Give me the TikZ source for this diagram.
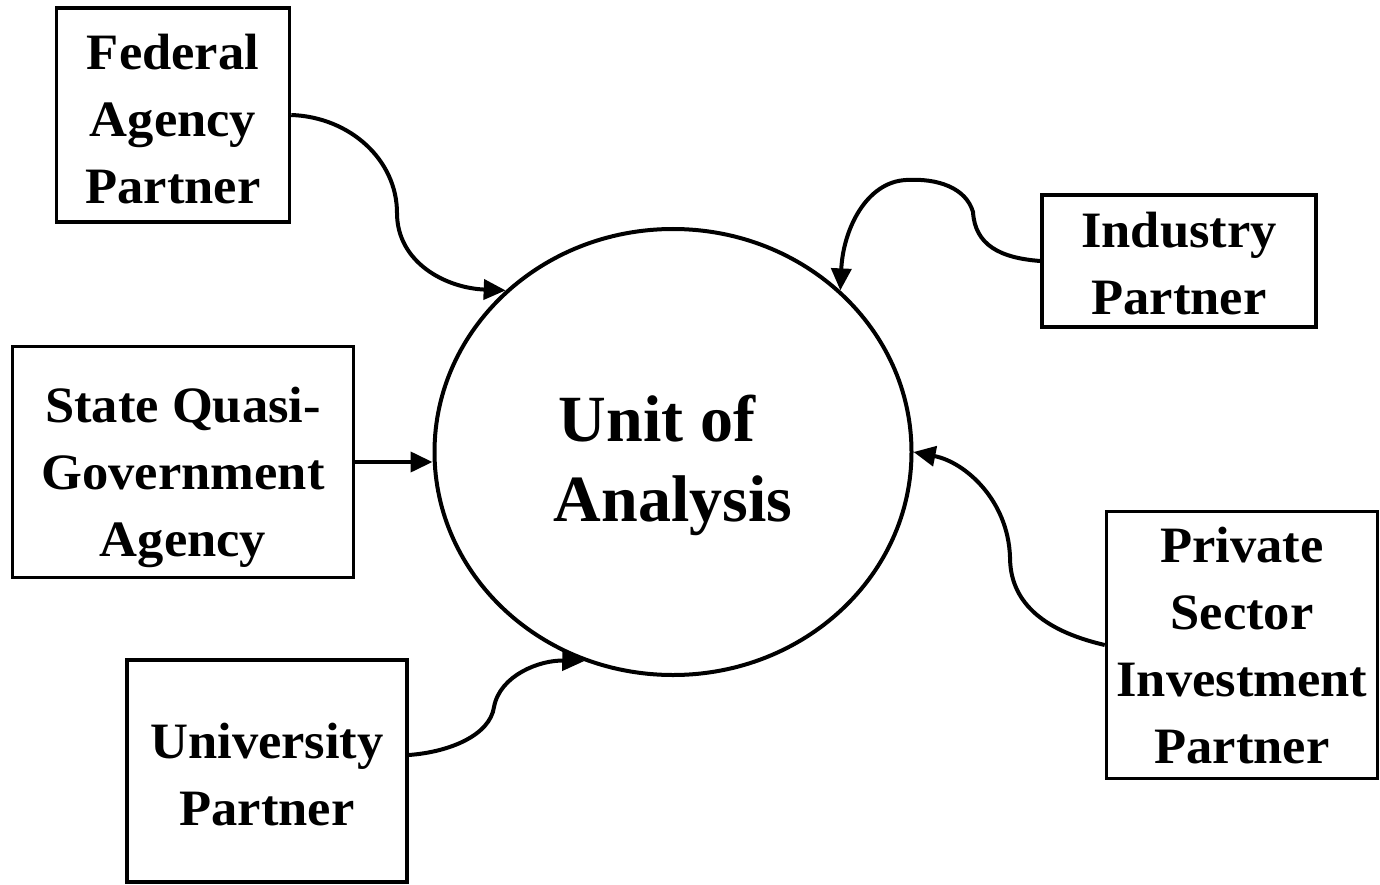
\documentclass[tikz,border=0pt]{standalone}
\usepackage{fontspec}
\setmainfont{Liberation Serif}
\newfontfamily\partnerfont{Liberation Serif}[FakeStretch=1.03]
\usetikzlibrary{shapes.geometric,arrows.meta}
\begin{document}
\begin{tikzpicture}[x=1pt,y=-1pt,
  partner/.style={draw,line width=3.5pt,inner sep=0pt},
  partnertext/.style={inner sep=0pt,align=center,
    font=\partnerfont\bfseries\fontsize{51}{67}\selectfont},
  link/.style={line width=4pt,-{Triangle[length=22pt,width=20pt]}}]
\useasboundingbox (0,0) rectangle (1380,885);

% central unit and its label
\node[ellipse,draw,line width=4pt,minimum width=477pt,minimum height=446pt,
  inner sep=0pt] (unit) at (673,452) {};
\node[align=center,font=\bfseries\fontsize{66}{80}\selectfont]
  (unitlabel) at (673,465) {Unit of\hspace*{32pt}\\Analysis};

% partner boxes
\node[partner,minimum width=233pt,minimum height=214pt] (fed) at (173,115) {};
\node[partner,minimum width=341pt,minimum height=231pt] (state) at (183,462) {};
\node[partner,minimum width=280pt,minimum height=222pt] (uni) at (267,771) {};
\node[partner,minimum width=274pt,minimum height=132pt] (ind) at (1179,261) {};
\node[partner,minimum width=271pt,minimum height=267pt] (pri) at (1242,645) {};

% partner names
\node[partnertext] (fedtext) at (173,119) {Federal\\Agency\\Partner};
\node[partnertext] (statetext) at (183,477) {State Quasi-\\Government\\Agency};
\node[partnertext] (unitext) at (267,775) {University\\Partner};
\node[partnertext] (indtext) at (1179,264) {Industry\\Partner};
\node[partnertext] (pritext) at (1242,646) {Private\\Sector\\Investment\\Partner};

% connectors into the unit
\draw[link] (fed.east) .. controls (350,117) and (397,160) .. (397,213)
  .. controls (397,262) and (445,288) .. (unit.136);
\draw[link] (state.east) -- (state.east -| unit.west);
\draw[link] ([yshift=16pt]uni.east) .. controls (450,752) and (490,735) .. (494,707)
  .. controls (500,675) and (540,660) .. (unit.-113);
\draw[link] (ind.west) .. controls (1000,258) and (975,245) .. (973,212)
  .. controls (966,188) and (938,178) .. (906,180)
  .. controls (866,182) and (843,230) .. (unit.44);
\draw[link] (pri.west) .. controls (1040,630) and (1010,600) .. (1010,557)
  .. controls (1008,500) and (965,462) .. (unit.0.5);
\end{tikzpicture}
\end{document}
